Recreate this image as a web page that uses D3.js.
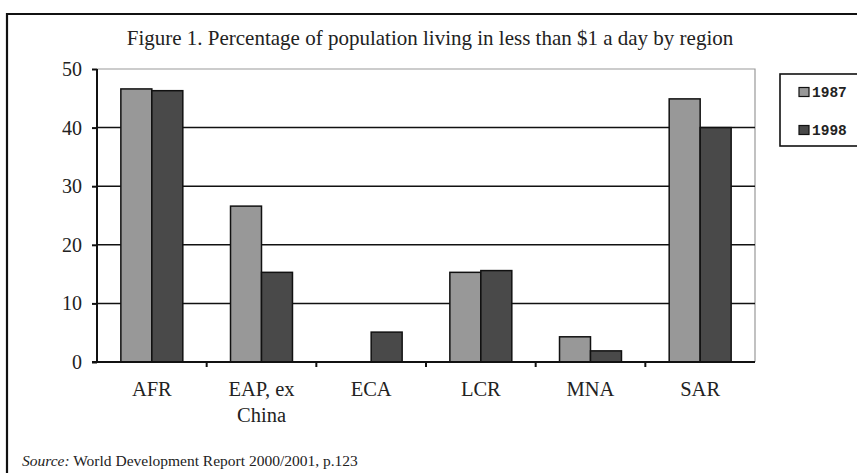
<!DOCTYPE html>
<html><head><meta charset="utf-8">
<script src="https://cdn.jsdelivr.net/npm/d3@7"></script>
<style>body{margin:0;background:#fff}svg{display:block}</style>
</head><body>
<svg id="c" width="857" height="473"></svg>
<script>
const categories = ["AFR", "EAP, ex\nChina", "ECA", "LCR", "MNA", "SAR"];
const seriesNames = ["1987", "1998"];
const values1987 = [46.6, 26.6, 0.2, 15.3, 4.3, 44.9];
const values1998 = [46.3, 15.3, 5.1, 15.6, 1.9, 40.0];
const yTicks = [0, 10, 20, 30, 40, 50];
const colors = ["#989898", "#494949"];

const svg = d3.select("#c");
const serif = "'Liberation Serif', 'DejaVu Serif', serif";

// outer frame
svg.append("path").attr("d", "M7,480 L7,14 L870,14").attr("fill", "none").attr("stroke", "#111").attr("stroke-width", 2.2);

svg.append("text").attr("x", 430).attr("y", 45).attr("text-anchor", "middle")
  .attr("font-family", serif).attr("font-size", 21).attr("fill", "#222")
  .text("Figure 1. Percentage of population living in less than $1 a day by region");

const L = 97, R = 755, T = 69, B = 362;
const x = d3.scaleBand().domain(d3.range(categories.length)).range([L, R]).paddingInner(0).paddingOuter(0);
const x1 = d3.scaleBand().domain(seriesNames).range([0, x.bandwidth()]).paddingInner(0).paddingOuter(0.77);
const y = d3.scaleLinear().domain([0, 50]).range([B, T]);

// plot area border top/right (gray)
svg.append("path").attr("d", `M${L},${T} L${R},${T} L${R},${B}`).attr("fill", "none").attr("stroke", "#999").attr("stroke-width", 1.2);

// gridlines
svg.append("g").selectAll("line").data(yTicks.filter(d => d > 0 && d < 50)).join("line")
  .attr("x1", L).attr("x2", R).attr("y1", d => y(d)).attr("y2", d => y(d))
  .attr("stroke", "#111").attr("stroke-width", 1.5);

// bars
const data = categories.map((c, i) => [values1987[i], values1998[i]]);
const g = svg.append("g");
data.forEach((vals, i) => {
  vals.forEach((v, j) => {
    if (v < 0.5) return;
    g.append("rect")
      .attr("x", x(i) + x1(seriesNames[j]))
      .attr("y", y(v))
      .attr("width", x1.bandwidth())
      .attr("height", y(0) - y(v))
      .attr("fill", colors[j]).attr("stroke", "#111").attr("stroke-width", 1.5);
  });
});

// y axis
const ya = svg.append("g").attr("transform", `translate(${L},0)`)
  .call(d3.axisLeft(y).tickValues(yTicks).tickSize(5).tickPadding(10));
ya.select(".domain").attr("stroke", "#111").attr("stroke-width", 2).attr("d", `M0,${B}V${T}`);
ya.selectAll(".tick line").attr("stroke", "#111").attr("stroke-width", 2);
ya.selectAll("text").attr("font-family", serif).attr("font-size", 20).attr("fill", "#222");

// x axis
const xa = svg.append("g").attr("transform", `translate(0,${B})`);
xa.append("line").attr("x1", L - 5).attr("x2", R).attr("stroke", "#111").attr("stroke-width", 2);
xa.selectAll(".tk").data(d3.range(1, categories.length)).join("line")
  .attr("x1", d => x(d)).attr("x2", d => x(d)).attr("y1", 0).attr("y2", 5)
  .attr("stroke", "#111").attr("stroke-width", 2);
categories.forEach((c, i) => {
  const lines = c.split("\n");
  const t = xa.append("text").attr("text-anchor", "middle")
    .attr("font-family", serif).attr("font-size", 20.5).attr("fill", "#222");
  lines.forEach((ln, k) => {
    t.append("tspan").attr("x", x(i) + x.bandwidth() / 2).attr("y", 34 + k * 26).text(ln);
  });
});

// legend
svg.append("rect").attr("x", 780).attr("y", 74).attr("width", 100).attr("height", 72)
  .attr("fill", "#fff").attr("stroke", "#111").attr("stroke-width", 1.6);
seriesNames.forEach((s, j) => {
  const yy = 92 + j * 38;
  svg.append("rect").attr("x", 799).attr("y", yy - 4.5).attr("width", 10).attr("height", 9)
    .attr("fill", colors[j]).attr("stroke", "#111").attr("stroke-width", 1.2);
  svg.append("text").attr("x", 812).attr("y", yy + 5)
    .attr("font-family", "'Liberation Mono', 'DejaVu Sans Mono', monospace").attr("font-weight", "bold")
    .attr("font-size", 14.5).attr("fill", "#222").text(s);
});

// source
const src = svg.append("text").attr("x", 22).attr("y", 466).attr("font-family", serif)
  .attr("font-size", 15.5).attr("fill", "#222");
src.append("tspan").attr("font-style", "italic").text("Source:");
src.append("tspan").text(" World Development Report 2000/2001, p.123");
</script>
</body></html>
